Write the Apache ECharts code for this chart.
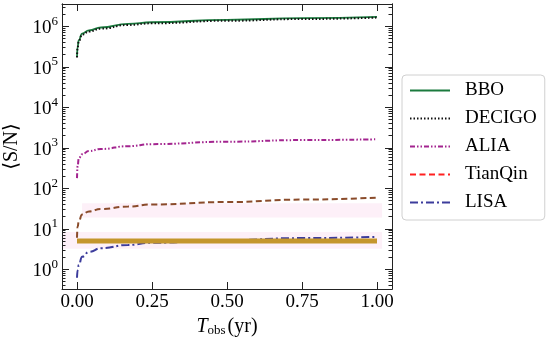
<!DOCTYPE html>
<html><head><meta charset="utf-8">
<script src="https://cdn.jsdelivr.net/npm/echarts@6/dist/echarts.min.js"></script>
<style>html,body{margin:0;padding:0;background:#fff}#c{width:550px;height:337px}</style>
</head><body><div id="c"></div>
<script>
const tObs = [0, 0.002, 0.006, 0.017, 0.04, 0.08, 0.17, 0.25, 0.5, 0.75, 1.0];
const bbo = [178000, 316000, 457000, 661000, 794000, 933000, 1148000, 1259000, 1445000, 1585000, 1698000];
const decigo = [170000, 300000, 430000, 620000, 745000, 875000, 1080000, 1185000, 1370000, 1510000, 1640000];
const alia = [178, 355, 550, 692, 832, 933, 1096, 1230, 1413, 1549, 1622];
const tianqin = [6.0, 11.2, 15.5, 22.4, 26.9, 30.9, 35.5, 39.8, 45.7, 52.5, 58.9];
const lisa = [0.62, 0.95, 1.29, 2.04, 2.69, 3.31, 3.98, 4.52, 5.25, 5.89, 6.31];
const thresholdT = [0, 1.0];
const thresholdV = [5, 5];
const bandT = [[-0.05, 1.017], [0.017, 1.017]];
const bandV = [[3.2, 8.3], [19, 43]];
const xTicks = [0, 0.25, 0.5, 0.75, 1.0];
const yMajor = [1, 10, 100, 1000, 10000, 100000, 1000000];
const yMinor = [];
for (let e = -1; e <= 6; e++) for (let m = 2; m <= 9; m++) yMinor.push(m * Math.pow(10, e));
const exps = {1:'0',10:'1',100:'2',1000:'3',10000:'4',100000:'5',1000000:'6'};

const FONT = 'Liberation Serif';
const pair = (xs, ys) => xs.map((x, i) => [x, ys[i]]);
const yMin = 0.326, yMax = 3.55e6, xMin = -0.05, xMax = 1.05;
const axisLine = {show: true, onZero: false, lineStyle: {color: '#222', width: 1}};

function yAx(pos, ticks, len, labels) {
  return {
    type: 'log', position: pos, min: yMin, max: yMax,
    axisLine: axisLine, splitLine: {show: false},
    axisTick: {show: true, inside: true, length: len, customValues: ticks, lineStyle: {color: '#222', width: 1}},
    axisLabel: labels ? {
      show: true, margin: 4, customValues: yMajor,
      formatter: v => '{b|10}{s|' + exps[Math.round(v)] + '}',
      rich: {b: {fontFamily: FONT, fontSize: 19, color: '#000', padding: [4, 0, 0, 0]},
             s: {fontFamily: FONT, fontSize: 13, color: '#000', verticalAlign: 'top'}}
    } : {show: false}
  };
}
function xAx(pos, labels) {
  return {
    type: 'value', position: pos, min: xMin, max: xMax,
    axisLine: axisLine, splitLine: {show: false},
    axisTick: {show: true, inside: true, length: 7, customValues: xTicks, lineStyle: {color: '#222'}},
    axisLabel: labels ? {show: true, margin: 4, customValues: xTicks, fontFamily: FONT, fontSize: 19, color: '#000',
      formatter: v => v.toFixed(2)} : {show: false}
  };
}

const xA0 = xAx('bottom', true);
xA0.name = '{i|T}{sub|obs}{r|(yr)}';
xA0.nameLocation = 'middle';
xA0.nameGap = 25;
xA0.nameTextStyle = {rich: {
  i: {fontFamily: FONT, fontStyle: 'italic', fontSize: 20, color: '#000'},
  sub: {fontFamily: FONT, fontSize: 13, color: '#000', verticalAlign: 'bottom', padding: [0, 2, 0, 0]},
  r: {fontFamily: FONT, fontSize: 20, color: '#000'}}};

const yA0 = yAx('left', yMajor, 7, true);
yA0.name = '⟨S/N⟩';
yA0.nameLocation = 'middle';
yA0.nameGap = 40;
yA0.nameTextStyle = {fontFamily: FONT + ', DejaVu Serif', fontSize: 20, color: '#000'};

function line(name, data, color, width, dash) {
  return {name, type: 'line', data, symbol: 'none', showSymbol: false, smooth: true, smoothMonotone: 'x',
    xAxisIndex: 0, yAxisIndex: 0,
    lineStyle: {color, width, type: dash || 'solid', cap: 'butt'}, itemStyle: {color}};
}

const option = {
  animation: false,
  backgroundColor: '#fff',
  grid: {left: 62, right: 158, top: 4, bottom: 48, containLabel: false, outerBoundsMode: 'none'},
  xAxis: [xA0, xAx('top', false)],
  yAxis: [yA0, yAx('right', yMajor, 7, false), yAx('left', yMinor, 3.5, false), yAx('right', yMinor, 3.5, false)],
  legend: {
    orient: 'vertical', left: 402, top: 75,
    itemWidth: 40, itemHeight: 12, itemGap: 9, itemTextGap: 15,
    padding: [6, 8, 8, 7],
    borderColor: '#d0d0d0', borderWidth: 1, borderRadius: 4,
    itemStyle: {opacity: 0},
    textStyle: {fontFamily: FONT, fontSize: 19, color: '#000', padding: [0, 0, 0, 10]},
    data: ['BBO', 'DECIGO', 'ALIA', {name: 'TianQin', lineStyle: {color: '#ff2020'}}, 'LISA']
  },
  series: [
    line('BBO', pair(tObs, bbo), '#1b7a3e', 1.8),
    line('DECIGO', pair(tObs, decigo), '#111', 2, [1.5, 2]),
    line('ALIA', pair(tObs, alia), '#a3248f', 2, [5, 2, 1.5, 2, 1.5, 2]),
    line('TianQin', pair(tObs, tianqin), '#8a4b2a', 2, [6, 3.5]),
    line('LISA', pair(tObs, lisa), '#3c3c9c', 2, [8, 3, 2, 3]),
    {name: 'threshold', type: 'line', data: pair(thresholdT, thresholdV), symbol: 'none',
      lineStyle: {color: '#c4962c', width: 5, cap: 'butt'}, z: 3,
      markArea: {silent: true, itemStyle: {color: '#fdf0f8'}, z: 0,
        data: bandT.map((t, i) => [{coord: [t[0], bandV[i][0]]}, {coord: [t[1], bandV[i][1]]}])}}
  ]
};
const chart = echarts.init(document.getElementById('c'), null, {renderer: 'canvas'});
chart.setOption(option);
</script></body></html>
